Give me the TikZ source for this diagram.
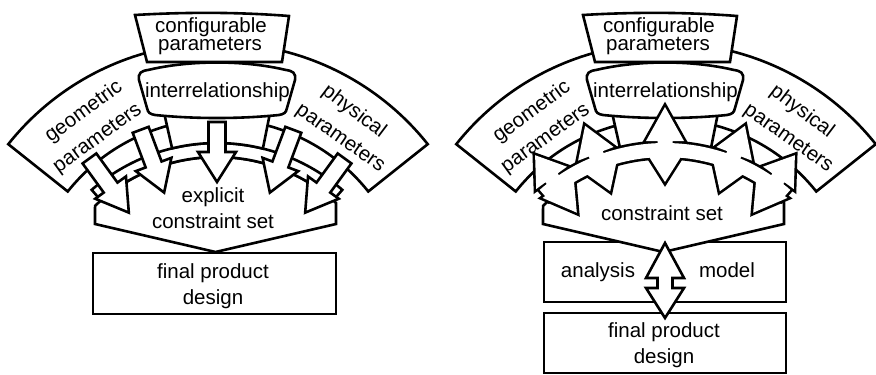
\documentclass[tikz,border=0pt]{standalone}
\usepackage{fontspec}
\setmainfont{Liberation Sans}
\usetikzlibrary{calc}
\newcommand{\fsz}{\fontsize{20.5}{25}\selectfont}
% fan block arc: #1 centre, #2 style
\newcommand{\fanpath}[2]{\path[#2] ($(#1)+(-141.5:268)$) arc[start angle=-141.5,end angle=-38.5,radius=268] -- ($(#1)+(-38.5:192)$) arc[start angle=-38.5,end angle=-141.5,radius=192] -- cycle;}
% thin band: #1 centre, #2 style
\newcommand{\bandpath}[2]{\path[#2] ($(#1)+(-131:191)$) arc[start angle=-131,end angle=-49,radius=191] -- ($(#1)+(-49:177)$) arc[start angle=-49,end angle=-131,radius=177] -- cycle;}
% stem: #1 centre, #2 dx
\newcommand{\stempath}[2]{\path[shp] (163+#2,108) -- ($(#1)+(-103.6:191)$) arc[start angle=-103.6,end angle=-76.1,radius=191] -- (271+#2,108) -- cycle;}
% configurable box: #1 dx
\newcommand{\confpath}[1]{\path[shp] (135+#1,15) .. controls (186+#1,12) and (238+#1,12) .. (289+#1,16) -- (282+#1,62) -- (147+#1,62) -- cycle;}
% interrelationship box: #1 dx
\newcommand{\interpath}[1]{\path[shp] (147+#1,108) -- (139+#1,80) .. controls (138+#1,73) and (141+#1,71) .. (148+#1,70) .. controls (190+#1,60) and (244+#1,60) .. (286+#1,70) .. controls (293+#1,71) and (296+#1,73) .. (295+#1,80) -- (287+#1,108) .. controls (286+#1,113) and (284+#1,114) .. (279+#1,115) .. controls (240+#1,119) and (194+#1,119) .. (155+#1,115) .. controls (150+#1,114) and (148+#1,113) .. cycle;}
% constraint set: #1 dx
\newcommand{\conspath}[1]{\path[shp] (95+#1,224) -- (215.5+#1,252) -- (336+#1,224) -- (336+#1,202.9) arc[start angle=-47.8,end angle=-133.6,radius=177] -- cycle;}
% single arrow: #1 centre, #2 angle, #3 r top, #4 r base, #5 r tip
\newcommand{\sarrow}[5]{\path[shp] ($(#1)+(-#2:#3)+(270-#2:8.5)$) -- ($(#1)+(-#2:#4)+(270-#2:8.5)$) -- ($(#1)+(-#2:#4)+(270-#2:19)$) -- ($(#1)+(-#2:#5)$) -- ($(#1)+(-#2:#4)+(90-#2:19)$) -- ($(#1)+(-#2:#4)+(90-#2:8.5)$) -- ($(#1)+(-#2:#3)+(90-#2:8.5)$) -- cycle;}
% double arrow: #1 centre, #2 angle, #3 outer tip, #4 outer base, #5 inner base, #6 inner tip, #7 style
\newcommand{\darrow}[7]{\path[#7] ($(#1)+(-#2:#3)$) -- ($(#1)+(-#2:#4)+(90-#2:19)$) -- ($(#1)+(-#2:#4)+(90-#2:7.5)$) -- ($(#1)+(-#2:#5)+(90-#2:7.5)$) -- ($(#1)+(-#2:#5)+(90-#2:19)$) -- ($(#1)+(-#2:#6)$) -- ($(#1)+(-#2:#5)+(270-#2:19)$) -- ($(#1)+(-#2:#5)+(270-#2:7.5)$) -- ($(#1)+(-#2:#4)+(270-#2:7.5)$) -- ($(#1)+(-#2:#4)+(270-#2:19)$) -- cycle;}
\begin{document}
\begin{tikzpicture}[x=1pt,y=-1pt,
  shp/.style={draw=black,fill=white,line width=2.6pt,line join=miter},
  outl/.style={draw=black,line width=5.2pt,line join=miter},
  wfill/.style={fill=white},
  txt/.style={font=\fsz,inner sep=0pt,anchor=base},
  rtxt/.style={font=\fsz,inner sep=0pt,anchor=center},
  box/.style={draw=black,fill=white,line width=2.6pt,inner sep=0pt}]
\useasboundingbox (0,0) rectangle (876,375);
\fill[white] (0,0) rectangle (876,375);
\coordinate (CL) at (218,311);
\coordinate (BL) at (217,334);
\coordinate (CR) at (666,311);
\coordinate (BR) at (665,334);

% ---------------- left diagram ----------------
\fanpath{CL}{shp}
\confpath{0}
\conspath{0}
\bandpath{BL}{shp}
\stempath{BL}{0}
\interpath{0}
\sarrow{BL}{126}{217}{181}{150}
\sarrow{BL}{110.5}{218}{181}{151}
\sarrow{BL}{90}{212}{182}{152}
\sarrow{BL}{69.5}{218}{181}{151}
\sarrow{BL}{54}{217}{181}{150}
\node[box,minimum width=243pt,minimum height=61pt] (finL) at (214.5,283.5) {};

\node[txt] (cfgL1) at (211,32) {configurable};
\node[txt] (cfgL2) at (210,50) {parameters};
\node[txt] (intL) at (217.5,97) {interrelationship};
\node[rtxt,rotate=36] (geoL1) at (84,112) {geometric};
\node[rtxt,rotate=36] (geoL2) at (98,139) {parameters};
\node[rtxt,rotate=-37] (phyL1) at (354,112) {physical};
\node[rtxt,rotate=-35] (phyL2) at (340,139) {parameters};
\node[txt] (conL1) at (213,202) {explicit};
\node[txt] (conL2) at (213,228) {constraint set};
\node[txt] (finL1) at (213,278) {final product};
\node[txt] (finL2) at (213,304) {design};

% ---------------- right diagram ----------------
\fanpath{CR}{shp}
\confpath{448}
\node[box,minimum width=242pt,minimum height=60pt] (anaR) at (665,272) {};
\conspath{448}
\stempath{BR}{448}
\interpath{448}
% union of band and double arrows
\bandpath{BR}{outl}
\darrow{BR}{126}{221}{193}{182}{150}{outl}
\darrow{BR}{111}{223}{193}{182}{153}{outl}
\darrow{BR}{90}{227}{193}{182}{152}{outl}
\darrow{BR}{69}{223}{193}{182}{153}{outl}
\darrow{BR}{54}{221}{193}{182}{150}{outl}
\bandpath{BR}{wfill}
\darrow{BR}{126}{221}{193}{182}{150}{wfill}
\darrow{BR}{111}{223}{193}{182}{153}{wfill}
\darrow{BR}{90}{227}{193}{182}{152}{wfill}
\darrow{BR}{69}{223}{193}{182}{153}{wfill}
\darrow{BR}{54}{221}{193}{182}{150}{wfill}
\node[box,minimum width=242pt,minimum height=60pt] (finR) at (665,343) {};
\coordinate (DA) at (665,400);
\darrow{DA}{90}{157}{122}{112}{82}{shp}

\node[txt] (cfgR1) at (659,32) {configurable};
\node[txt] (cfgR2) at (658,50) {parameters};
\node[txt] (intR) at (665.5,97) {interrelationship};
\node[rtxt,rotate=36] (geoR1) at (532,112) {geometric};
\node[rtxt,rotate=36] (geoR2) at (546,139) {parameters};
\node[rtxt,rotate=-37] (phyR1) at (802,112) {physical};
\node[rtxt,rotate=-35] (phyR2) at (788,139) {parameters};
\node[txt] (conR) at (662,220) {constraint set};
\node[txt] (anaR1) at (598,277) {analysis};
\node[txt] (anaR2) at (727,277) {model};
\node[txt] (finR1) at (664,337) {final product};
\node[txt] (finR2) at (664,363) {design};
\end{tikzpicture}
\end{document}
